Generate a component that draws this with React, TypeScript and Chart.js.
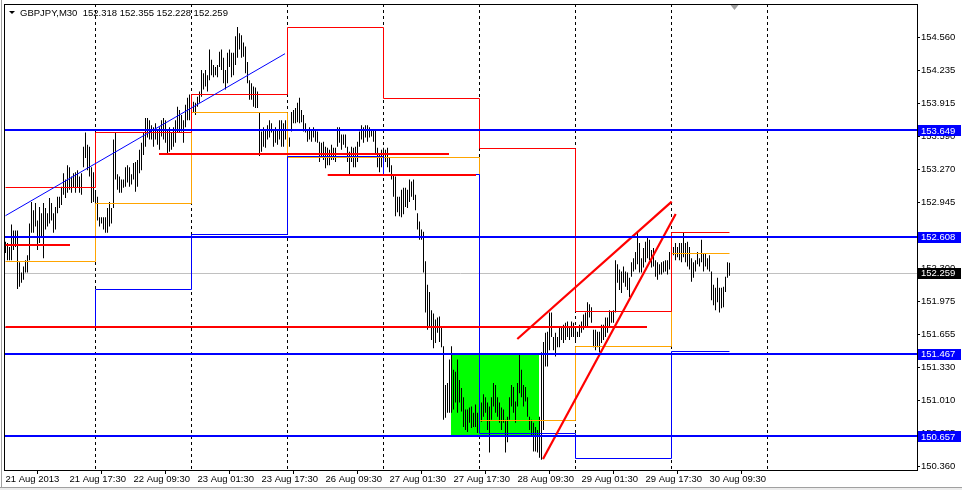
import React, { useEffect, useRef } from "react";
import { Chart, registerables } from "chart.js";

Chart.register(...registerables);

// ---- data -----------------------------------------------------------------
const symbolName = "GBPJPY,M30";
const lastOHLC = [152.318, 152.355, 152.228, 152.259];

// M30 bars, 21 Aug 01:30 .. 30 Aug 14:30 (high / low)
const highs = [
  // 21 Aug
  152.56, 152.55, 152.51, 152.73, 152.67, 152.67, 152.67, 152.36, 152.26, 152.32, 152.38, 152.43, 152.74, 152.95, 152.87,
  152.94, 152.77, 152.9, 152.84, 152.94, 152.89, 152.84, 152.99, 152.94, 152.84, 152.9, 153.0, 153.0, 153.1, 153.23,
  153.17, 153.31, 153.29, 153.2, 153.23, 153.24, 153.26, 153.2, 153.23, 153.49, 153.63, 153.51, 153.49, 153.29, 153.24,
  // 22 Aug
  153.04, 153.0, 152.8, 152.8, 152.8, 152.8, 152.89, 152.95, 152.89, 153.56, 153.63, 153.22, 153.2, 153.17, 153.17, 153.29,
  153.31, 153.29, 153.22, 153.33, 153.34, 153.36, 153.46, 153.53, 153.63, 153.77, 153.77, 153.75, 153.7, 153.68, 153.72,
  153.65, 153.68, 153.75, 153.77, 153.75, 153.65, 153.68, 153.63, 153.68, 153.75, 153.88, 153.85, 153.8, 153.75, 153.9,
  153.97, 154.0,
  // 23 Aug
  153.9, 153.93, 153.92, 153.98, 154.03, 154.24, 154.21, 154.24, 154.19, 154.44, 154.34, 154.29, 154.27, 154.29, 154.42,
  154.44, 154.36, 154.24, 154.41, 154.44, 154.41, 154.41, 154.57, 154.66, 154.6, 154.58, 154.51, 154.47, 154.32, 154.14,
  154.11, 154.08, 154.07, 154.03, 153.83, 153.64, 153.68, 153.65, 153.7, 153.75, 153.72, 153.65, 153.68, 153.65, 153.75,
  153.75, 153.72, 153.75,
  // 26 Aug
  153.65, 153.58, 153.83, 153.85, 153.87, 153.92, 153.97, 153.85, 153.8, 153.72, 153.65, 153.68, 153.65, 153.68, 153.65,
  153.64, 153.54, 153.53, 153.54, 153.49, 153.48, 153.46, 153.51, 153.48, 153.48, 153.68, 153.68, 153.61, 153.61, 153.61,
  153.49, 153.44, 153.49, 153.48, 153.49, 153.54, 153.64, 153.7, 153.68, 153.7, 153.7, 153.68, 153.65, 153.65, 153.65,
  153.48, 153.41, 153.46,
  // 27 Aug
  153.48, 153.46, 153.48, 153.39, 153.31, 153.22, 153.2, 153.0, 153.0, 153.07, 153.09, 153.09, 153.07, 153.17, 153.15,
  153.17, 153.02, 152.84, 152.76, 152.68, 152.66, 152.37, 152.14, 152.07, 151.89, 151.86, 151.8, 151.82, 151.83, 151.73,
  151.54, 151.16, 151.18, 151.41, 151.54, 151.31, 151.29, 151.41, 151.21, 151.13, 151.04, 150.92, 150.92, 150.94, 150.95,
  150.89, 150.97, 150.89,
  // 28 Aug
  150.9, 150.99, 151.07, 151.04, 150.99, 150.95, 151.04, 151.18, 151.16, 151.04, 150.99, 150.94, 150.92, 150.82, 150.85,
  151.04, 151.16, 151.14, 151.0, 151.18, 151.46, 151.31, 151.16, 151.14, 151.04, 150.85, 150.82, 150.79, 150.75, 150.72,
  150.85, 151.48, 151.58, 151.67, 151.68, 151.87, 151.87, 151.63, 151.67, 151.63, 151.72, 151.73, 151.75, 151.77, 151.78,
  151.73, 151.78, 151.77,
  // 29 Aug
  151.72, 151.68, 151.75, 151.78, 151.85, 151.87, 151.97, 151.95, 151.92, 151.7, 151.7, 151.68, 151.68, 151.75, 151.75,
  151.82, 151.82, 151.89, 151.88, 151.89, 152.38, 152.34, 152.29, 152.27, 152.32, 152.27, 152.26, 152.21, 152.36, 152.4,
  152.46, 152.65, 152.55, 152.4, 152.5, 152.56, 152.6, 152.58, 152.48, 152.5, 152.38, 152.36, 152.34, 152.36, 152.37,
  152.38, 152.38, 152.46,
  // 30 Aug
  152.48, 152.51, 152.55, 152.51, 152.55, 152.55, 152.65, 152.55, 152.56, 152.51, 152.4, 152.36, 152.38, 152.46, 152.4,
  152.58, 152.45, 152.45, 152.4, 152.43, 152.27, 152.14, 152.11, 152.21, 152.11, 152.11, 152.12, 152.22, 152.36, 152.355,
];

const lows = [
  // 21 Aug
  152.45, 152.38, 152.38, 152.38, 152.48, 152.51, 152.1, 152.12, 152.16, 152.19, 152.26, 152.26, 152.38, 152.65, 152.65,
  152.71, 152.48, 152.55, 152.61, 152.4, 152.68, 152.71, 152.74, 152.77, 152.65, 152.68, 152.84, 152.89, 152.92, 153.02,
  152.99, 153.04, 153.07, 153.04, 153.09, 153.04, 153.09, 153.04, 153.02, 153.29, 153.38, 153.26, 153.2, 152.94, 152.95,
  // 22 Aug
  152.74, 152.77, 152.71, 152.74, 152.68, 152.65, 152.65, 152.71, 152.74, 152.89, 153.17, 153.07, 153.04, 153.04, 153.09,
  153.1, 153.14, 153.1, 153.12, 153.17, 153.05, 153.1, 153.23, 153.26, 153.41, 153.49, 153.58, 153.56, 153.56, 153.49,
  153.56, 153.51, 153.46, 153.59, 153.56, 153.53, 153.43, 153.44, 153.46, 153.49, 153.53, 153.63, 153.63, 153.64, 153.53,
  153.68, 153.75, 153.75,
  // 23 Aug
  153.78, 153.82, 153.8, 153.88, 153.92, 153.98, 154.05, 154.08, 154.03, 154.14, 154.19, 154.17, 154.19, 154.17, 154.27,
  154.24, 154.11, 154.05, 154.11, 154.27, 154.17, 154.19, 154.29, 154.36, 154.44, 154.36, 154.37, 154.21, 154.11, 153.95,
  153.95, 153.88, 153.87, 153.87, 153.4, 153.44, 153.49, 153.48, 153.56, 153.58, 153.63, 153.49, 153.53, 153.51, 153.56,
  153.49, 153.49, 153.56,
  // 26 Aug
  153.39, 153.49, 153.64, 153.72, 153.72, 153.73, 153.72, 153.73, 153.64, 153.63, 153.54, 153.56, 153.54, 153.58, 153.54,
  153.53, 153.34, 153.38, 153.36, 153.28, 153.31, 153.31, 153.36, 153.36, 153.34, 153.49, 153.53, 153.46, 153.51, 153.48,
  153.34, 153.22, 153.34, 153.29, 153.29, 153.34, 153.49, 153.56, 153.53, 153.58, 153.54, 153.58, 153.59, 153.54, 153.43,
  153.29, 153.24, 153.29,
  // 27 Aug
  153.26, 153.34, 153.29, 153.24, 153.17, 153.0, 152.81, 152.85, 152.81, 152.8, 152.83, 152.9, 152.89, 152.95, 153.0,
  152.97, 152.87, 152.68, 152.58, 152.58, 152.26, 151.87, 151.7, 151.72, 151.6, 151.52, 151.57, 151.67, 151.58, 151.53,
  150.82, 150.84, 150.89, 150.89, 150.89, 150.92, 150.99, 150.89, 150.99, 150.9, 150.75, 150.72, 150.7, 150.79, 150.74,
  150.75, 150.75, 150.69,
  // 28 Aug
  150.82, 150.8, 150.85, 150.89, 150.72, 150.5, 150.82, 150.95, 150.89, 150.85, 150.79, 150.72, 150.79, 150.5, 150.6,
  150.82, 150.95, 150.89, 150.79, 150.95, 151.08, 151.04, 150.95, 151.0, 150.85, 150.72, 150.67, 150.51, 150.51, 150.5,
  150.45, 150.43, 150.72, 151.34, 151.34, 151.5, 151.63, 151.5, 151.44, 151.53, 151.53, 151.6, 151.57, 151.6, 151.63,
  151.6, 151.63, 151.63,
  // 29 Aug
  151.57, 151.63, 151.63, 151.67, 151.7, 151.73, 151.73, 151.82, 151.77, 151.53, 151.5, 151.53, 151.48, 151.57, 151.6,
  151.63, 151.67, 151.73, 151.77, 151.77, 151.87, 152.16, 152.09, 152.06, 152.16, 152.12, 152.09, 152.02, 152.22, 152.27,
  152.29, 152.34, 152.26, 152.26, 152.31, 152.36, 152.4, 152.38, 152.31, 152.32, 152.22, 152.19, 152.24, 152.24, 152.26,
  152.27, 152.24, 152.29,
  // 30 Aug
  152.22, 152.43, 152.38, 152.41, 152.38, 152.36, 152.41, 152.36, 152.32, 152.29, 152.17, 152.21, 152.27, 152.34, 152.32,
  152.36, 152.27, 152.32, 152.29, 152.27, 151.99, 151.94, 151.89, 151.97, 151.87, 151.91, 151.92, 152.07, 152.21, 152.228,
];

// trading days (first bar index of each day) and the day separators
const dayStarts = [0, 45, 93, 141, 189, 237, 285, 333];
const daySeparators = [45, 93, 141, 189, 237, 285, 333, 381];

// previous-day levels shown as step lines
const prevHigh = [153.1, 153.63, 154.01, 154.66, 153.97, 153.48, 151.88, 152.66];
const prevClose = [152.37, 152.94, 153.83, 153.39, 153.39, 150.82, 151.54, 152.45];
const prevLow = [151.73, 152.1, 152.64, 153.4, 153.22, 150.69, 150.45, 151.49];

// axis labels
const timeTickBars = [0, 32, 64, 96, 128, 160, 192, 224, 256, 288, 320, 352];
const timeLabels = [
  "21 Aug 2013", "21 Aug 17:30", "22 Aug 09:30", "23 Aug 01:30", "23 Aug 17:30", "26 Aug 09:30",
  "27 Aug 01:30", "27 Aug 17:30", "28 Aug 09:30", "29 Aug 01:30", "29 Aug 17:30", "30 Aug 09:30",
];
const priceTicks = [
  154.56, 154.235, 153.915, 153.59, 153.27, 152.945, 152.625, 152.3, 151.975, 151.655, 151.33, 151.01, 150.685, 150.36,
];

// drawn objects
const levelPrices = [153.649, 152.608, 151.467, 150.657];
const currentPrice = 152.259;

const redSegFrom = [0, 0, 76.75, 161.1];
const redSegTo = [32.25, 320.75, 221.75, 235.25];
const redSegPrice = [152.534, 151.723, 153.422, 153.217];

const blueTrendBars = [0, 139.75];
const blueTrendPrices = [152.816, 154.4];
const redTrendABars = [255.9, 333.1];
const redTrendAPrices = [151.61, 152.953];
const redTrendBBars = [268.75, 335.1];
const redTrendBPrices = [150.437, 152.833];

const greenBoxBars = [222.75, 266.75];
const greenBoxPrices = [150.657, 151.467];

// axis ranges
const X_MIN = -0.75;
const X_MAX = 455.75;
const Y_MIN = 150.329;
const Y_MAX = 154.886;

const FONT = "'Liberation Sans', Arial, sans-serif";
const FONT_SIZE = 9.5;

// ---- helpers --------------------------------------------------------------
function stepPoints(vals: number[]) {
  const pts = vals.map((v, d) => ({ x: dayStarts[d], y: v }));
  pts.push({ x: highs.length - 1, y: vals[vals.length - 1] });
  return pts;
}

function seg(xs: number[], ys: number[]) {
  return [
    { x: xs[0], y: ys[0] },
    { x: xs[1], y: ys[1] },
  ];
}

const lineBase = {
  type: "line" as const,
  pointRadius: 0,
  pointHoverRadius: 0,
  fill: false,
  tension: 0,
  borderCapStyle: "butt" as const,
};

const mt4Plugin = {
  id: "mt4",
  // pixel-snap thin / horizontal lines so they render crisp like the terminal
  afterDatasetsUpdate(chart: any) {
    chart.data.datasets.forEach((ds: any, i: number) => {
      if (!ds.snap) return;
      const meta = chart.getDatasetMeta(i);
      meta.data.forEach((pt: any) => {
        if (ds.snap === "half") {
          pt.x = Math.floor(pt.x) + 0.5;
          pt.y = Math.round(pt.y) + 0.5;
        } else if (ds.snap === "int") {
          pt.y = Math.round(pt.y);
        }
      });
    });
  },
  beforeDraw(chart: any) {
    const { ctx, width, height } = chart;
    ctx.save();
    ctx.fillStyle = "#ffffff";
    ctx.fillRect(0, 0, width, height);
    ctx.restore();
  },
  beforeDatasetsDraw(chart: any) {
    const { ctx, chartArea: a, scales } = chart;
    const x = scales.x;
    const y = scales.y;
    ctx.save();
    // green rectangle
    const gx0 = Math.round(x.getPixelForValue(greenBoxBars[0]));
    const gx1 = Math.round(x.getPixelForValue(greenBoxBars[1]));
    const gy0 = Math.round(y.getPixelForValue(greenBoxPrices[1]));
    const gy1 = Math.round(y.getPixelForValue(greenBoxPrices[0]));
    ctx.fillStyle = "#00ff00";
    ctx.fillRect(gx0, gy0, gx1 - gx0, gy1 - gy0);
    // current price line
    const cy = Math.round(y.getPixelForValue(currentPrice)) + 0.5;
    ctx.strokeStyle = "#c0c0c0";
    ctx.lineWidth = 1;
    ctx.beginPath();
    ctx.moveTo(a.left, cy);
    ctx.lineTo(a.right, cy);
    ctx.stroke();
    // day separators
    ctx.strokeStyle = "#000000";
    ctx.setLineDash([3, 3]);
    daySeparators.forEach((d) => {
      const px = Math.floor(x.getPixelForValue(d)) + 0.5;
      ctx.beginPath();
      ctx.moveTo(px, a.top);
      ctx.lineTo(px, a.bottom);
      ctx.stroke();
    });
    ctx.restore();
  },
  afterDraw(chart: any) {
    const { ctx, chartArea: a, scales, width, height } = chart;
    const x = scales.x;
    const y = scales.y;
    ctx.save();
    // plot border
    ctx.strokeStyle = "#000000";
    ctx.lineWidth = 1;
    ctx.strokeRect(a.left + 0.5, a.top + 0.5, a.right - a.left, a.bottom - a.top);

    // price labels on the right
    ctx.font = `${FONT_SIZE}px ${FONT}`;
    ctx.textBaseline = "middle";
    ctx.textAlign = "left";
    const drawLabel = (v: number, bg: string) => {
      const py = y.getPixelForValue(v);
      ctx.fillStyle = bg;
      ctx.fillRect(a.right + 1, Math.round(py) - 5, width - a.right - 2, 11);
      ctx.fillStyle = "#ffffff";
      ctx.fillText(v.toFixed(3), a.right + 4, py + 0.5);
    };
    levelPrices.forEach((v) => drawLabel(v, "#0000ff"));
    drawLabel(currentPrice, "#000000");

    // title
    ctx.fillStyle = "#000000";
    ctx.beginPath();
    ctx.moveTo(a.left + 5, a.top + 7);
    ctx.lineTo(a.left + 11, a.top + 7);
    ctx.lineTo(a.left + 8, a.top + 10);
    ctx.closePath();
    ctx.fill();
    ctx.fillText(
      `${symbolName}  ${lastOHLC.map((v) => v.toFixed(3)).join(" ")}`,
      a.left + 16,
      a.top + 9
    );

    // chart shift marker
    const sx = Math.round(x.getPixelForValue(highs.length + 1)) + 0.5;
    ctx.fillStyle = "#a0a0a0";
    ctx.beginPath();
    ctx.moveTo(sx - 4, a.top + 1);
    ctx.lineTo(sx + 4, a.top + 1);
    ctx.lineTo(sx, a.top + 6);
    ctx.closePath();
    ctx.fill();

    // window frame
    ctx.strokeStyle = "#a0a0a0";
    ctx.beginPath();
    ctx.moveTo(1.5, 0);
    ctx.lineTo(1.5, height - 3);
    ctx.moveTo(0, height - 2.5);
    ctx.lineTo(width, height - 2.5);
    ctx.stroke();
    ctx.fillStyle = "#ececec";
    ctx.fillRect(0, height - 2, width, 2);
    ctx.restore();
  },
};

export default function App() {
  const canvasRef = useRef<HTMLCanvasElement | null>(null);

  useEffect(() => {
    document.body.style.margin = "0";
    const canvas = canvasRef.current;
    if (!canvas) return;

    const bars = highs.map((h, i) => ({ x: i, y: [lows[i], h] }));

    const datasets: any[] = [
      {
        type: "bar",
        data: bars,
        backgroundColor: "#000000",
        borderWidth: 0,
        barThickness: 1,
        inflateAmount: 0,
        order: 20,
      },
      { ...lineBase, data: stepPoints(prevClose), borderColor: "#ffa500", borderWidth: 1, stepped: true, snap: "half", order: 12 },
      { ...lineBase, data: stepPoints(prevLow), borderColor: "#0000ff", borderWidth: 1, stepped: true, snap: "half", order: 11 },
      { ...lineBase, data: stepPoints(prevHigh), borderColor: "#ff0000", borderWidth: 1, stepped: true, snap: "half", order: 10 },
      { ...lineBase, data: seg(blueTrendBars, blueTrendPrices), borderColor: "#0000ff", borderWidth: 1, order: 9 },
      ...redSegPrice.map((p, k) => ({
        ...lineBase,
        data: seg([redSegFrom[k], redSegTo[k]], [p, p]),
        borderColor: "#ff0000",
        borderWidth: 2,
        snap: "int",
        order: 8,
      })),
      { ...lineBase, data: seg(redTrendABars, redTrendAPrices), borderColor: "#ff0000", borderWidth: 2.2, order: 7 },
      { ...lineBase, data: seg(redTrendBBars, redTrendBPrices), borderColor: "#ff0000", borderWidth: 2.2, order: 7 },
      ...levelPrices.map((p) => ({
        ...lineBase,
        data: seg([X_MIN, X_MAX], [p, p]),
        borderColor: "#0000ff",
        borderWidth: 2,
        snap: "int",
        order: 5,
      })),
    ];

    const chart = new Chart(canvas, {
      type: "line",
      data: { datasets },
      plugins: [mt4Plugin],
      options: {
        responsive: false,
        animation: false,
        devicePixelRatio: 1,
        events: [],
        layout: { padding: { left: 4, top: 4, right: 0, bottom: 0 } },
        plugins: { legend: { display: false }, tooltip: { enabled: false } },
        scales: {
          x: {
            type: "linear",
            position: "bottom",
            min: X_MIN,
            max: X_MAX,
            offset: false,
            grid: { display: true, drawOnChartArea: false, drawTicks: true, tickLength: 4, color: "#000000" },
            border: { display: false },
            ticks: {
              autoSkip: false,
              maxRotation: 0,
              minRotation: 0,
              align: "start",
              padding: 0,
              color: "#000000",
              font: { family: FONT, size: FONT_SIZE },
              callback: (v: any) => {
                const k = timeTickBars.indexOf(Number(v));
                return k >= 0 ? timeLabels[k] : "";
              },
            },
            afterBuildTicks: (s: any) => {
              s.ticks = timeTickBars.map((v) => ({ value: v }));
            },
            afterFit: (s: any) => {
              s.height = 20;
              s.paddingLeft = 0;
              s.paddingRight = 0;
            },
          },
          y: {
            type: "linear",
            position: "right",
            min: Y_MIN,
            max: Y_MAX,
            grid: { display: true, drawOnChartArea: false, drawTicks: true, tickLength: 3, color: "#000000" },
            border: { display: false },
            ticks: {
              padding: 1,
              color: "#000000",
              font: { family: FONT, size: FONT_SIZE },
              callback: (v: any) => Number(v).toFixed(3),
            },
            afterBuildTicks: (s: any) => {
              s.ticks = priceTicks.map((v) => ({ value: v }));
            },
            afterFit: (s: any) => {
              s.width = 45;
              s.paddingTop = 0;
              s.paddingBottom = 0;
            },
          },
        },
      } as any,
    });

    return () => {
      chart.destroy();
    };
  }, []);

  return (
    <div style={{ position: "absolute", left: 0, top: 0, width: 962, height: 490 }}>
      <canvas ref={canvasRef} width={962} height={490} style={{ display: "block", width: 962, height: 490 }} />
    </div>
  );
}
